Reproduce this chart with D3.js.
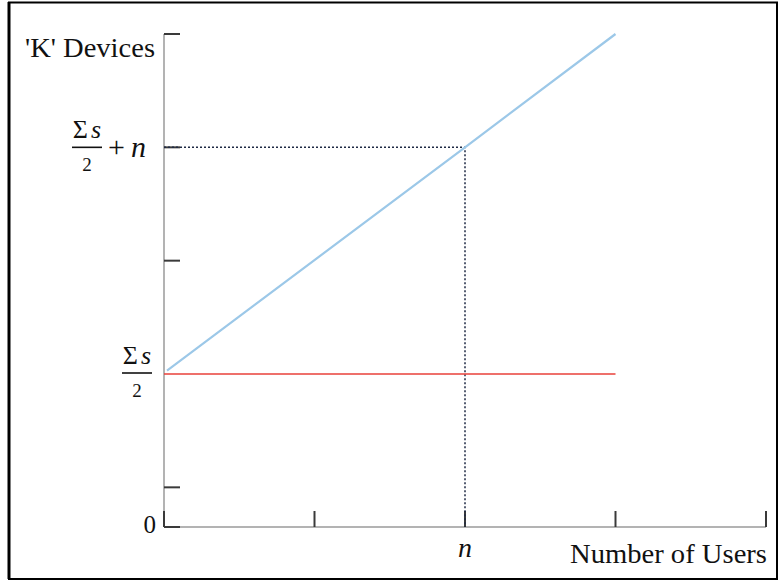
<!DOCTYPE html>
<html><head><meta charset="utf-8">
<script src="https://cdn.jsdelivr.net/npm/d3@7"></script>
<style>
body{margin:0;background:#fff}svg{display:block}
text{font-family:"Liberation Serif","Times New Roman",Times,"DejaVu Serif",serif;}
</style>
</head><body>
<script>
// data (abstract units)
const xTicks = [0, 1, 2, 3, 4];
const yTicks = [0, 0.35, 1.35, 2.35, 3.35, 4.35];
const xDomain = [0, 4];
const yDomain = [0, 4.35];
const halfSumS = 1.35;          // Σs/2
const nUsers = 2;               // n
const baseline = [{x: 0, y: halfSumS}, {x: 3, y: halfSumS}];           // red
const withUsers = [{x: 0.02, y: halfSumS + 0.03}, {x: 2, y: halfSumS + 2}, {x: 3, y: halfSumS + 3}]; // blue
const guide = [{x: 0, y: halfSumS + 2}, {x: nUsers, y: halfSumS + 2}, {x: nUsers, y: 0}];

const W = 779, H = 581;
const svg = d3.select("body").append("svg").attr("width", W).attr("height", H);

// border
svg.append("rect").attr("x", 9).attr("y", 2.5).attr("width", 768).attr("height", 576.5)
  .attr("fill", "none").attr("stroke", "#000").attr("stroke-width", 2);
svg.append("line").attr("x1", 9).attr("x2", 9).attr("y1", 2).attr("y2", 579).attr("stroke", "#000").attr("stroke-width", 3);

const x = d3.scaleLinear().domain(xDomain).range([164, 766]);
const y = d3.scaleLinear().domain(yDomain).range([527, 34]);

// axis lines (grey)
svg.append("line").attr("x1", x(0)).attr("x2", x(0)).attr("y1", y(yDomain[1])).attr("y2", y(0))
  .attr("stroke", "#b3b3b3").attr("stroke-width", 2);
svg.append("line").attr("x1", x(0)).attr("x2", x(xDomain[1])).attr("y1", y(0)).attr("y2", y(0))
  .attr("stroke", "#b3b3b3").attr("stroke-width", 2);

// y ticks (inward, to the right)
svg.selectAll(".yt").data(yTicks.filter(d => d !== halfSumS)).enter().append("line")
  .attr("x1", x(0)).attr("x2", x(0) + 16).attr("y1", d => y(d)).attr("y2", d => y(d))
  .attr("stroke", "#3a3a3a").attr("stroke-width", 2);
// x ticks (inward, upwards)
svg.selectAll(".xt").data(xTicks).enter().append("line")
  .attr("x1", d => x(d)).attr("x2", d => x(d)).attr("y1", y(0)).attr("y2", y(0) - 16)
  .attr("stroke", "#3a3a3a").attr("stroke-width", 2);

const line = d3.line().x(d => x(d.x)).y(d => y(d.y));

// dotted guide
svg.append("path").attr("d", line(guide)).attr("fill", "none")
  .attr("stroke", "#1f2a44").attr("stroke-width", 1.5).attr("stroke-dasharray", "2,2");

// red line
svg.append("path").attr("d", line(baseline)).attr("fill", "none")
  .attr("stroke", "#e8403a").attr("stroke-width", 1.6);
// blue line
svg.append("path").attr("d", line(withUsers))
  .attr("fill", "none").attr("stroke", "#9cc8e8").attr("stroke-width", 2.2);

// text
svg.append("text").attr("x", 25).attr("y", 57)
  .attr("font-size", 27).attr("fill", "#111")
  .attr("textLength", 130).attr("lengthAdjust", "spacingAndGlyphs").text("'K' Devices");
svg.append("text").attr("x", 570).attr("y", 563)
  .attr("font-size", 27).attr("fill", "#111")
  .attr("textLength", 197).attr("lengthAdjust", "spacingAndGlyphs").text("Number of Users");
svg.append("text").attr("x", 156).attr("y", y(0) + 6).attr("text-anchor", "end")
  .attr("font-size", 25).attr("fill", "#111").text("0");
svg.append("text").attr("x", x(nUsers)).attr("y", 557).attr("text-anchor", "middle")
  .attr("font-style", "italic").attr("font-size", 28).attr("fill", "#111").text("n");

// fraction label builder
function frac(cx, cy, plusN) {
  const g = svg.append("g").attr("fill", "#111");
  const t = g.append("text").attr("x", cx).attr("y", cy - 9).attr("text-anchor", "middle").attr("font-size", 26);
  t.append("tspan").text("Σ");
  t.append("tspan").attr("font-style", "italic").attr("dx", 3).text("s");
  g.append("line").attr("x1", cx - 15).attr("x2", cx + 15).attr("y1", cy).attr("y2", cy)
    .attr("stroke", "#111").attr("stroke-width", 1.6);
  g.append("text").attr("x", cx).attr("y", cy + 24).attr("text-anchor", "middle").attr("font-size", 19).text("2");
  if (plusN) {
    const t2 = g.append("text").attr("x", cx + 21).attr("y", cy + 10).attr("font-size", 30);
    t2.append("tspan").text("+");
    t2.append("tspan").attr("font-style", "italic").attr("dx", 6).text("n");
  }
}
frac(87, y(halfSumS + 2), true);
frac(137, y(halfSumS) - 1, false);
</script>
</body></html>
